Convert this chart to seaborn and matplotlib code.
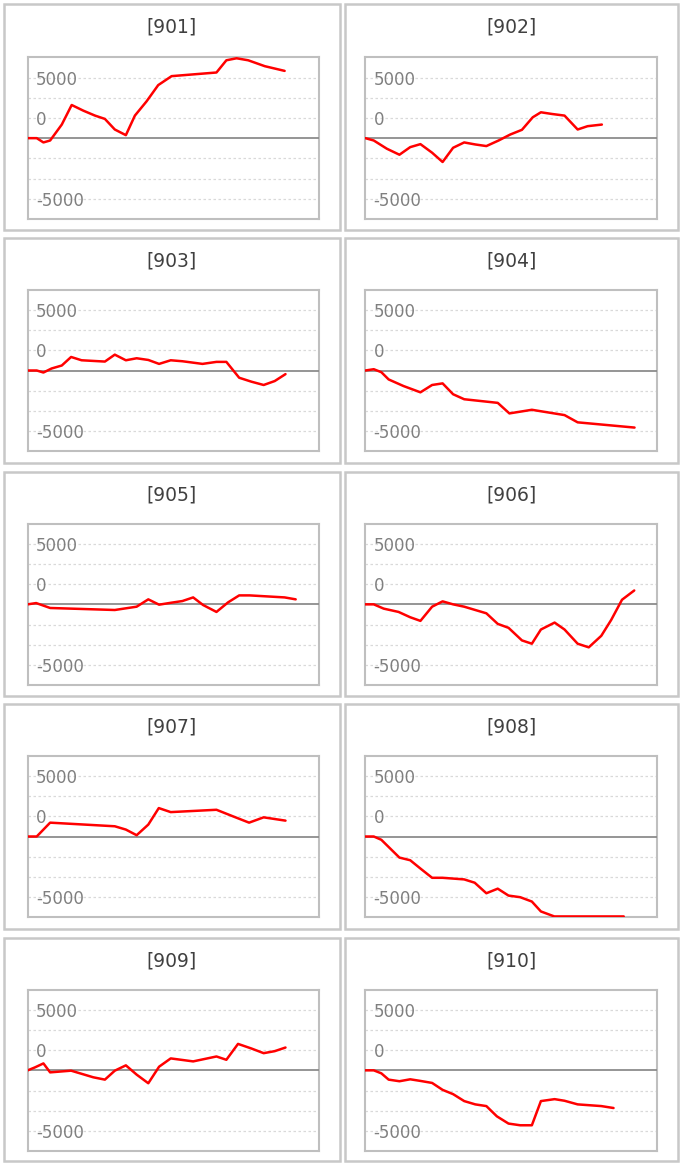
import matplotlib
matplotlib.use("Agg")
import matplotlib.pyplot as plt
import seaborn as sns
from matplotlib.patches import Rectangle

# panel names
names = ["[901]", "[902]", "[903]", "[904]", "[905]",
         "[906]", "[907]", "[908]", "[909]", "[910]"]

# x = trading day position, y = cumulative result
x901 = [0, 3.1, 5.4, 7.7, 11.7, 15.1, 19.1, 23.1, 26.5, 29.9, 33.7, 36.8, 40.8, 44.8, 49.4, 64.8, 68.2, 71.7, 75.7, 81.4, 88.2]
y901 = [0, 0, -530, -290, 1680, 4100, 3400, 2790, 2380, 1070, 370, 2790, 4550, 6560, 7670, 8120, 9630, 9880, 9630, 8900, 8320]

x902 = [0, 2.9, 7.4, 11.7, 15.4, 18.9, 22.9, 26.5, 30.1, 33.9, 37.7, 41.5, 45.7, 49.7, 53.7, 57.4, 60.2, 64.0, 68.3, 72.8, 76.2, 81.1]
y902 = [0, -290, -1310, -2050, -1110, -740, -1800, -2950, -1190, -530, -780, -980, -290, 450, 1030, 2580, 3200, 2990, 2790, 1070, 1480, 1680]

x903 = [0, 3.1, 5.4, 8.2, 11.7, 14.9, 18.5, 22.5, 26.5, 29.9, 33.7, 37.4, 41.4, 45.1, 49.1, 53.1, 60.0, 64.8, 68.2, 72.6, 76.8, 81.0, 84.8, 88.5]
y903 = [0, 0, -250, 250, 620, 1680, 1270, 1190, 1110, 1970, 1270, 1520, 1310, 820, 1270, 1150, 820, 1070, 1070, -900, -1390, -1800, -1310, -450]

x904 = [0, 2.9, 5.5, 8.0, 13.1, 18.9, 22.9, 26.5, 30.1, 33.9, 45.4, 49.4, 57.1, 68.3, 72.8, 92.3]
y904 = [0, 160, -210, -1110, -1930, -2710, -1800, -1600, -2950, -3570, -4020, -5330, -4880, -5540, -6440, -7090]

x905 = [0, 2.9, 7.7, 29.9, 37.4, 41.4, 45.1, 49.4, 53.1, 56.8, 60.2, 64.8, 68.8, 72.6, 76.2, 88.2, 92.0]
y905 = [0, 160, -450, -700, -290, 620, -40, 210, 410, 860, -80, -940, 250, 1110, 1110, 860, 620]

x906 = [0, 2.9, 6.3, 11.4, 15.4, 18.9, 22.9, 26.5, 30.1, 33.9, 41.5, 45.4, 49.1, 53.7, 57.1, 60.2, 64.9, 68.3, 72.8, 76.6, 80.9, 84.3, 88.0, 92.2]
y906 = [0, 0, -530, -940, -1600, -2050, -290, 370, 0, -290, -1110, -2420, -2910, -4470, -4880, -3120, -2260, -3120, -4880, -5330, -3900, -1930, 570, 1720]

x907 = [0, 3.1, 7.7, 29.9, 33.7, 37.4, 41.4, 45.0, 49.1, 64.8, 70.5, 76.0, 81.0, 88.5]
y907 = [0, 0, 1720, 1270, 860, 160, 1480, 3530, 3030, 3320, 2500, 1720, 2380, 1970]

x908 = [0, 2.9, 5.5, 11.7, 15.4, 18.9, 22.9, 26.5, 33.9, 37.5, 41.5, 45.4, 49.1, 53.1, 57.1, 60.2, 64.8, 88.6]
y908 = [0, 0, -410, -2620, -2950, -3980, -5130, -5130, -5330, -5740, -7050, -6480, -7340, -7540, -8080, -9310, -9930, -9930]

x909 = [0, 2.5, 5.4, 7.7, 14.9, 22.5, 26.5, 29.9, 33.7, 37.4, 41.4, 45.1, 49.1, 56.8, 64.8, 68.2, 72.2, 76.8, 81.0, 84.8, 88.5]
y909 = [0, 370, 860, -250, -40, -860, -1150, -40, 620, -530, -1600, 450, 1480, 1110, 1720, 1310, 3280, 2710, 2130, 2380, 2830]

x910 = [0, 2.9, 5.5, 8.0, 11.7, 15.4, 18.9, 22.9, 26.5, 30.1, 33.9, 37.7, 41.5, 45.1, 49.1, 53.1, 57.1, 60.2, 64.9, 68.3, 72.8, 80.9, 85.1]
y910 = [0, 0, -370, -1150, -1350, -1110, -1310, -1560, -2420, -2950, -3810, -4220, -4430, -5700, -6600, -6810, -6810, -3810, -3570, -3770, -4220, -4430, -4670]

xs = [x901, x902, x903, x904, x905, x906, x907, x908, x909, x910]
ys = [y901, y902, y903, y904, y905, y906, y907, y908, y909, y910]

# tick labels as printed on the chart
ytick_pos = [7500, 5000, 2500, -2500, -5000, -7500]
ytick_lab = ["5000", "", "0", "", "", "-5000"]

sns.set_style("white")
plt.rcParams['font.family'] = ['DejaVu Sans']

W, H = 684, 1166
fig = plt.figure(figsize=(W / 100, H / 100), dpi=100)

frame_x = [(4, 340), (345, 678)]
frame_y = [(4, 230), (238, 463), (472, 696), (704, 929), (938, 1161)]
box_x = [(27.7, 319), (365.3, 657)]
box_y = [(57.3, 219), (290, 451), (523.7, 685), (756, 917), (989.7, 1151)]

for i in range(10):
    r, c = i // 2, i % 2
    fx0, fx1 = frame_x[c]
    fy0, fy1 = frame_y[r]
    fig.add_artist(Rectangle((fx0 / W, 1 - fy1 / H), (fx1 - fx0) / W, (fy1 - fy0) / H,
                             transform=fig.transFigure, fill=False,
                             edgecolor="#c8c8c8", linewidth=1.8))
    fig.text((fx0 + fx1) / 2 / W, 1 - (fy0 + 23) / H, names[i],
             ha="center", va="center", fontsize=13.5, color="#404040")

    bx0, bx1 = box_x[c]
    by0, by1 = box_y[r]
    ax = fig.add_axes([bx0 / W, 1 - by1 / H, (bx1 - bx0) / W, (by1 - by0) / H])
    sns.lineplot(x=xs[i], y=ys[i], ax=ax, color="red", linewidth=1.8, zorder=5)
    ax.axhline(0, color="#8c8c8c", linewidth=1.3, zorder=3)
    ax.set_xlim(0, 100)
    ax.set_ylim(-10000, 10000)
    ax.set_xticks([])
    ax.set_yticks(ytick_pos)
    ax.set_yticklabels(ytick_lab)
    ax.tick_params(axis="y", length=0, pad=-6, labelsize=12, labelcolor="#808080")
    for lab in ax.get_yticklabels():
        lab.set_horizontalalignment("left")
    ax.yaxis.grid(True, color="#d9d9d9", linestyle=(0, (2, 2)), linewidth=0.9)
    ax.set_axisbelow(True)
    for sp in ax.spines.values():
        sp.set_color("#bfbfbf")
        sp.set_linewidth(1.5)

fig.savefig("out.png", dpi=100)
